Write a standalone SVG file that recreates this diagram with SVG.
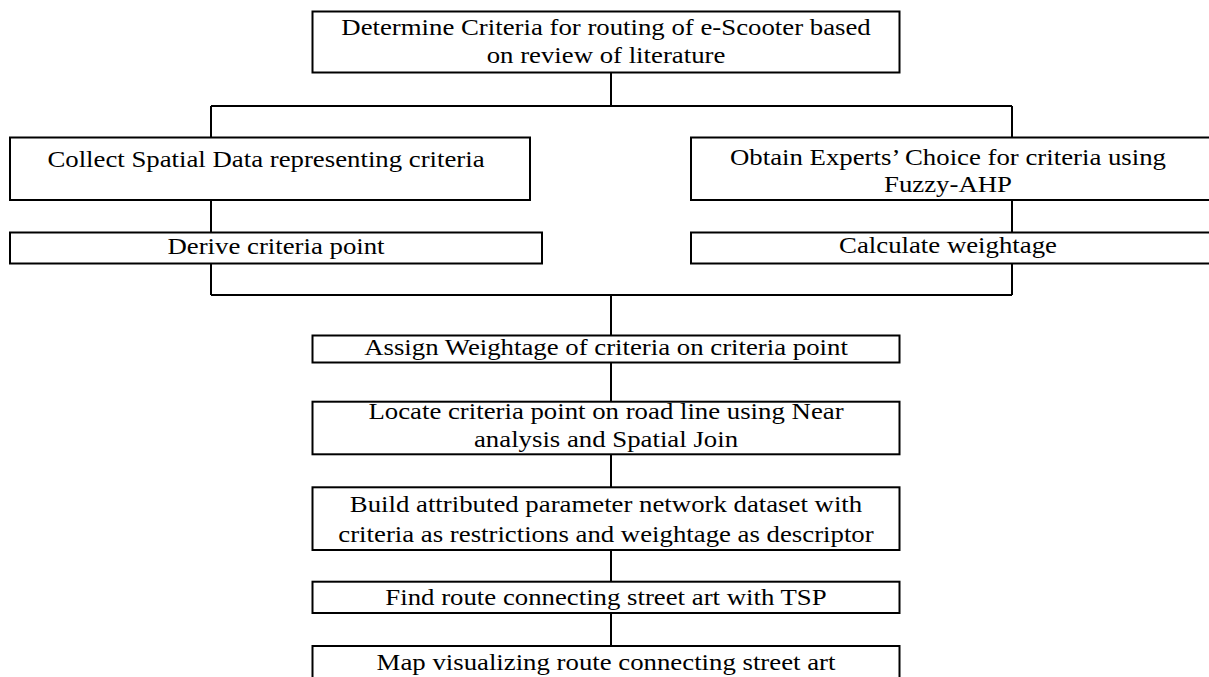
<svg xmlns="http://www.w3.org/2000/svg" width="1209" height="677" viewBox="0 0 1209 677">
<style>
.box{fill:#fff;stroke:#000;stroke-width:2}
.ln{fill:none;stroke:#000;stroke-width:2}
.t{font-family:"Liberation Serif","Times New Roman",serif;font-size:23.5px;text-anchor:middle;fill:#000}
</style>
<rect width="1209" height="677" fill="#fff"/>
<g id="connectors">
<path class="ln" d="M611 72.5V106M211 106H1012M211 106V137.5M1012 106V137.5M211 200V232.5M1012 200V232.5M211 263.5V295M1012 263.5V295M211 295H1012M611 295V335.5M611 362.5V401.7M611 454.3V487.3M611 550V581.7M611 613V646"/>
</g>
<g id="n1">
<rect class="box" x="312.5" y="11.5" width="587" height="61"/>
<text class="t" transform="translate(606 35) scale(1.14 1)">Determine Criteria for routing of e-Scooter based</text>
<text class="t" transform="translate(606 63) scale(1.14 1)">on review of literature</text>
</g>
<g id="n2">
<rect class="box" x="10" y="137.5" width="520" height="62.5"/>
<text class="t" transform="translate(266 167) scale(1.14 1)">Collect Spatial Data representing criteria</text>
</g>
<g id="n3">
<rect class="box" x="691" y="137.5" width="530" height="62.5"/>
<text class="t" transform="translate(948 165) scale(1.14 1)">Obtain Experts’ Choice for criteria using</text>
<text class="t" transform="translate(948 192) scale(1.14 1)">Fuzzy-AHP</text>
</g>
<g id="n4">
<rect class="box" x="10" y="232.5" width="532" height="31"/>
<text class="t" transform="translate(276 254) scale(1.14 1)">Derive criteria point</text>
</g>
<g id="n5">
<rect class="box" x="691" y="232.5" width="530" height="31"/>
<text class="t" transform="translate(948 253) scale(1.14 1)">Calculate weightage</text>
</g>
<g id="n6">
<rect class="box" x="312.5" y="335.5" width="587" height="27"/>
<text class="t" transform="translate(606 355) scale(1.14 1)">Assign Weightage of criteria on criteria point</text>
</g>
<g id="n7">
<rect class="box" x="312.5" y="401.7" width="587" height="52.6"/>
<text class="t" transform="translate(606 419) scale(1.14 1)">Locate criteria point on road line using Near</text>
<text class="t" transform="translate(606 447) scale(1.14 1)">analysis and Spatial Join</text>
</g>
<g id="n8">
<rect class="box" x="312.5" y="487.3" width="587" height="62.7"/>
<text class="t" transform="translate(606 511.7) scale(1.14 1)">Build attributed parameter network dataset with</text>
<text class="t" transform="translate(606 541.7) scale(1.14 1)">criteria as restrictions and weightage as descriptor</text>
</g>
<g id="n9">
<rect class="box" x="312.5" y="581.7" width="587" height="31.3"/>
<text class="t" transform="translate(606 605) scale(1.14 1)">Find route connecting street art with TSP</text>
</g>
<g id="n10">
<rect class="box" x="312.5" y="646" width="587" height="60"/>
<text class="t" transform="translate(606 670) scale(1.14 1)">Map visualizing route connecting street art</text>
</g>
</svg>
